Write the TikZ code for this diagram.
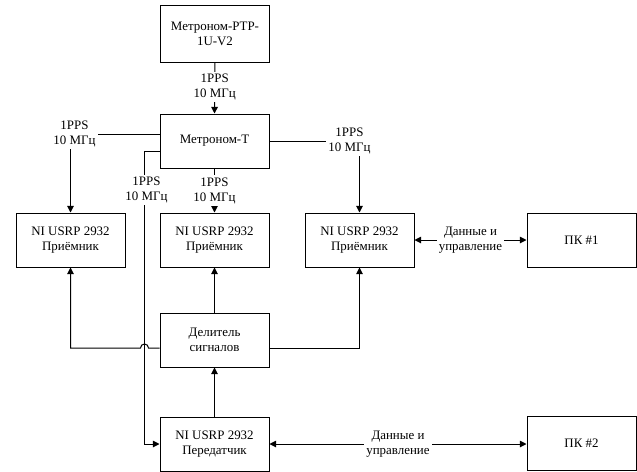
\documentclass[tikz,border=0pt]{standalone}
\usepackage{fontspec}
\setmainfont{Liberation Serif}
\usepackage{tikz}
\usetikzlibrary{arrows.meta, positioning}

\begin{document}
\begin{tikzpicture}[x=0.75pt,y=0.75pt,yscale=-1,xscale=1,
  font=\fontsize{9.7}{11.3}\selectfont,
  blk/.style={draw, line width=0.75pt, minimum width=81.75pt, minimum height=40.5pt, align=center, inner sep=1pt},
  lbl/.style={fill=white, inner sep=1.5pt, align=center},
  conn/.style={line width=0.75pt},
  arr/.style={conn, -{Triangle[length=5pt,width=5pt]}},
  darr/.style={conn, {Triangle[length=5pt,width=5pt]}-{Triangle[length=5pt,width=5pt]}}]
\path[use as bounding box] (0,0) rectangle (637,472);

% Boxes
\node[blk, minimum height=42.75pt] (ptp) at (215,33.5) {Метроном-PTP-\\1U-V2};
\node[blk] (metT) at (214.5,141) {Метроном-T};
\node[blk] (rxA) at (70.5,240) {NI USRP 2932\\Приёмник};
\node[blk] (rxB) at (214.5,240) {NI USRP 2932\\Приёмник};
\node[blk] (rxC) at (359.5,240) {NI USRP 2932\\Приёмник};
\node[blk] (pcA) at (581.5,240) {ПК \#1};
\node[blk] (split) at (214.5,340) {Делитель\\сигналов};
\node[blk] (tx) at (214.5,444) {NI USRP 2932\\Передатчик};
\node[blk] (pcB) at (581.5,443.5) {ПК \#2};

% Helper points (yshift is flipped by yscale=-1)
\coordinate (tl) at ([xshift=-11.25pt,yshift=8pt]metT.west);
\coordinate (sw) at ([yshift=6pt]split.west);

% Sync lines
\draw[arr] (ptp.south) -- node[lbl, pos=0.48] {1PPS\\10 МГц} (metT.north);
\draw[arr] ([yshift=-5.25pt]metT.west) -| node[lbl, pos=0.5, xshift=3pt] {1PPS\\10 МГц} (rxA.north);
\draw[arr] (metT.east) -| node[lbl, pos=0.5, xshift=-7.5pt] {1PPS\\10 МГц} (rxC.north);
\draw[arr] (metT.south) -- node[lbl] {1PPS\\10 МГц} (rxB.north);
\draw[arr] ([yshift=8pt]metT.west) -- (tl) |- node[lbl, pos=0.065, xshift=1.5pt] {1PPS\\10 МГц} (tx.west);

% Splitter outputs
\draw[arr] (sw) -- ([xshift=3pt]tl |- sw) arc[start angle=0, end angle=-180, radius=3pt] -- (rxA.south |- sw) -- (rxA.south);
\draw[arr] (split.north) -- (rxB.south);
\draw[arr] ([yshift=6pt]split.east) -| (rxC.south);
\draw[arr] (tx.north) -- (split.south);

% Data links
\draw[darr] (rxC.east) -- node[lbl] {Данные и\\управление} (pcA.west);
\draw[darr] (tx.east) -- node[lbl] {Данные и\\управление} (pcB.west |- tx.east);

\end{tikzpicture}
\end{document}
